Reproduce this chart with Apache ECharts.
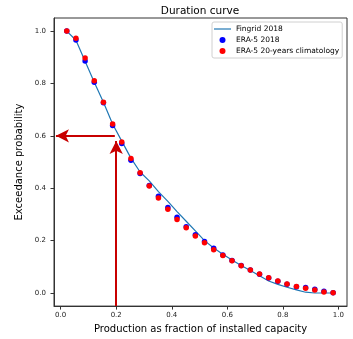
<!DOCTYPE html>
<html>
<head>
<meta charset="utf-8">
<script src="https://cdn.jsdelivr.net/npm/echarts@6/dist/echarts.min.js"></script>
<style>
html, body { margin: 0; padding: 0; background: #fff; }
#main { width: 353px; height: 339px; }
</style>
</head>
<body>
<div id="main"></div>
<script>
var chartDom = document.getElementById('main');
var myChart = echarts.init(chartDom);

// production bins (fraction of installed capacity)
var xs = [0.022, 0.055, 0.088, 0.121, 0.154, 0.187, 0.220, 0.253, 0.286, 0.319,
          0.352, 0.386, 0.419, 0.452, 0.485, 0.518, 0.551, 0.584, 0.617, 0.650,
          0.683, 0.716, 0.749, 0.782, 0.815, 0.849, 0.882, 0.915, 0.948, 0.981];

var fingrid = [1.000, 0.965, 0.885, 0.805, 0.728, 0.645, 0.580, 0.515, 0.462, 0.428,
               0.387, 0.350, 0.311, 0.274, 0.237, 0.200, 0.172, 0.148, 0.126, 0.105,
               0.086, 0.066, 0.046, 0.033, 0.022, 0.012, 0.003, 0.000, 0.000, 0.000];

var era2018 = [1.000, 0.966, 0.886, 0.805, 0.726, 0.640, 0.571, 0.507, 0.456, 0.410,
               0.369, 0.326, 0.289, 0.253, 0.222, 0.197, 0.171, 0.145, 0.124, 0.105,
               0.088, 0.072, 0.057, 0.045, 0.033, 0.024, 0.021, 0.014, 0.007, 0.001];

var eraClim = [1.000, 0.973, 0.897, 0.810, 0.728, 0.645, 0.577, 0.514, 0.459, 0.409,
               0.363, 0.320, 0.281, 0.249, 0.218, 0.192, 0.165, 0.143, 0.123, 0.104,
               0.088, 0.073, 0.058, 0.046, 0.034, 0.025, 0.018, 0.011, 0.004, 0.001];

var ticks = [0, 0.2, 0.4, 0.6, 0.8, 1.0];

// annotation: production 0.2 -> exceedance 0.6
var markX = 0.2;
var markY = 0.6;

function pairs(ys) {
    var out = [];
    for (var i = 0; i < xs.length; i++) out.push([xs[i], ys[i]]);
    return out;
}

var font = 'DejaVu Sans';
var arrowColor = '#c80000';

option = {
    animation: false,
    textStyle: { fontFamily: font },
    title: {
        text: 'Duration curve',
        left: 195,
        top: 1,
        textAlign: 'center',
        textStyle: { fontFamily: font, fontSize: 10.5, fontWeight: 'normal', color: '#000' }
    },
    legend: {
        orient: 'vertical',
        left: 212,
        top: 22,
        padding: [2, 3, 2, 2],
        itemGap: 1,
        itemWidth: 17,
        itemHeight: 6,
        borderColor: '#d0d0d0',
        borderWidth: 1,
        borderRadius: 2,
        textStyle: { fontFamily: font, fontSize: 7.5, color: '#000', lineHeight: 10 },
        data: [
            { name: 'Fingrid 2018', icon: 'path://M0,0H20V1.4H0Z' },
            { name: 'ERA-5 2018', icon: 'circle' },
            { name: 'ERA-5 20-years climatology', icon: 'circle' }
        ]
    },
    grid: {
        left: 54,
        top: 18,
        right: 6,
        bottom: 29,
        show: true,
        borderColor: '#333',
        borderWidth: 1
    },
    xAxis: {
        type: 'value',
        min: -0.024,
        max: 1.031,
        name: 'Production as fraction of installed capacity',
        nameLocation: 'middle',
        nameGap: 15,
        nameTextStyle: { fontFamily: font, fontSize: 10, color: '#000' },
        splitLine: { show: false },
        axisLine: { show: true, onZero: false, lineStyle: { color: '#333', width: 1 } },
        axisTick: { show: true, length: 3.5, customValues: ticks, lineStyle: { color: '#333' } },
        axisLabel: {
            customValues: ticks,
            margin: 6,
            fontSize: 7,
            color: '#222',
            formatter: function (v) { return v.toFixed(1); }
        }
    },
    yAxis: {
        type: 'value',
        min: -0.05,
        max: 1.05,
        name: 'Exceedance probability',
        nameLocation: 'middle',
        nameGap: 21,
        nameTextStyle: { fontFamily: font, fontSize: 10, color: '#000' },
        splitLine: { show: false },
        axisLine: { show: true, onZero: false, lineStyle: { color: '#333', width: 1 } },
        axisTick: { show: true, length: 3.5, customValues: ticks, lineStyle: { color: '#333' } },
        axisLabel: {
            customValues: ticks,
            margin: 8,
            fontSize: 7,
            color: '#222',
            formatter: function (v) { return v.toFixed(1); }
        }
    },
    series: [{
        name: 'Fingrid 2018',
        type: 'line',
        symbol: 'none',
        data: pairs(fingrid),
        lineStyle: { color: '#1f77b4', width: 1.2 },
        itemStyle: { color: '#1f77b4' },
        z: 2
    }, {
        name: 'ERA-5 2018',
        type: 'scatter',
        symbolSize: 5.5,
        data: pairs(era2018),
        itemStyle: { color: '#0000ff', opacity: 1 },
        z: 3
    }, {
        name: 'ERA-5 20-years climatology',
        type: 'scatter',
        symbolSize: 5.5,
        data: pairs(eraClim),
        itemStyle: { color: '#ff0000', opacity: 1 },
        z: 4
    }, {
        name: 'arrows',
        type: 'scatter',
        data: [],
        z: 1,
        markLine: {
            silent: true,
            animation: false,
            symbol: ['none', 'arrow'],
            symbolSize: [10, 13],
            label: { show: false },
            lineStyle: { color: arrowColor, width: 2, type: 'solid' },
            itemStyle: { color: arrowColor },
            emphasis: { disabled: true },
            data: [
                [{ coord: [markX, -0.05] }, { coord: [markX, markY - 0.02] }],
                [{ coord: [markX - 0.005, markY] }, { coord: [-0.017, markY] }]
            ]
        }
    }]
};

if (option && typeof option === "object") {
    myChart.setOption(option, true);
}
</script>
</body>
</html>
